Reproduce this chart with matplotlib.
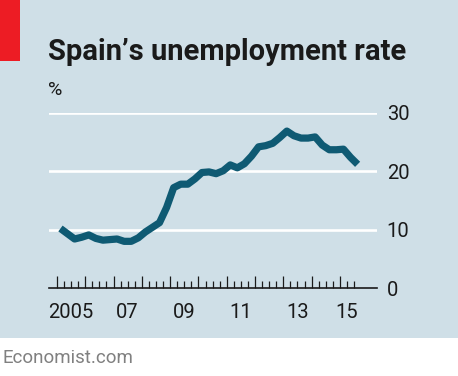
import matplotlib
matplotlib.use("Agg")
import matplotlib.pyplot as plt
import numpy as np
from matplotlib.patches import Rectangle

plt.rcParams['font.family'] = ['Roboto', 'DejaVu Sans']

# Quarterly unemployment rate, %, 2005Q1 - 2015Q3
quarters = [f"{y}Q{q}" for y in range(2005, 2016) for q in range(1, 5)][:43]
rate = [10.2, 9.3, 8.4, 8.7,
        9.1, 8.5, 8.2, 8.3,
        8.4, 8.0, 8.0, 8.6,
        9.6, 10.4, 11.2, 13.8,
        17.2, 17.8, 17.8, 18.7,
        19.8, 19.9, 19.6, 20.1,
        21.1, 20.6, 21.3, 22.6,
        24.2, 24.4, 24.8, 25.8,
        26.9, 26.1, 25.7, 25.7,
        25.9, 24.5, 23.7, 23.7,
        23.8, 22.4, 21.2]
y_ticks = [0, 10, 20, 30]
x_labels = ['2005', '07', '09', '11', '13', '15']
x_label_years = [2005, 2007, 2009, 2011, 2013, 2015]

bg = '#cfdfe7'
line_col = '#0f5a73'

# quarter -> decimal year (mid-quarter)
x = np.array([int(s[:4]) + (int(s[-1]) - 0.5) / 4 for s in quarters])

fig = plt.figure(figsize=(4.58, 3.76), dpi=100, facecolor='white')

# blue panel and red tag
fig.patches.append(Rectangle((0, 38 / 376), 1, 338 / 376, transform=fig.transFigure,
                             facecolor=bg, edgecolor='none', zorder=-2))
fig.patches.append(Rectangle((0, 1 - 61 / 376), 20 / 458, 61 / 376, transform=fig.transFigure,
                             facecolor='#ed1c24', edgecolor='none', zorder=-1))

ax = fig.add_axes([49 / 458, 88 / 376, 328 / 458, 175 / 376])
ax.set_zorder(2)
ax.set_facecolor('none')

ax.plot(x, rate, color=line_col, lw=5.2, solid_joinstyle='round',
        solid_capstyle='butt', clip_on=False, zorder=3)

ax.set_xlim(2004.72, 2016.31)
ax.set_ylim(0, 30)

# gridlines
for v in y_ticks[1:]:
    ax.axhline(v, color='white', lw=1.9, zorder=1)
for s in ['top', 'left', 'right']:
    ax.spines[s].set_visible(False)
ax.spines['bottom'].set_linewidth(1.2)
ax.spines['bottom'].set_color('#1a1a1a')

ax.yaxis.tick_right()
ax.set_yticks(y_ticks)
ax.tick_params(axis='y', length=0, pad=7, labelsize=14.5, labelcolor='#1a1a1a')

ax.set_xticks(np.arange(2005, 2016))
ax.set_xticks(np.arange(2005, 2015.6, 0.25), minor=True)
ax.set_xticklabels([])
ax.tick_params(axis='x', which='major', direction='in', length=9, width=0.9, color='#1a1a1a')
ax.tick_params(axis='x', which='minor', direction='in', length=5, width=0.9, color='#1a1a1a')

for yr, lab in zip(x_label_years, x_labels):
    pos = yr + 0.5 if yr < 2015 else yr + 0.25
    ax.text(pos, -2.5, lab, ha='center', va='top', fontsize=14.5, color='#1a1a1a')

fig.text(48 / 458, 1 - 60 / 376, 'Spain\u2019s unemployment rate', fontsize=21,
         fontweight='bold', color='#1a1a1a', va='baseline', ha='left')
fig.text(48 / 458, 1 - 95 / 376, '%', fontsize=14, color='#1a1a1a', va='baseline', ha='left')
fig.text(2 / 458, 1 - 363 / 376, 'Economist.com', fontsize=13.5, color='#808080',
         va='baseline', ha='left')

fig.savefig('out.png', dpi=100, facecolor='white')
